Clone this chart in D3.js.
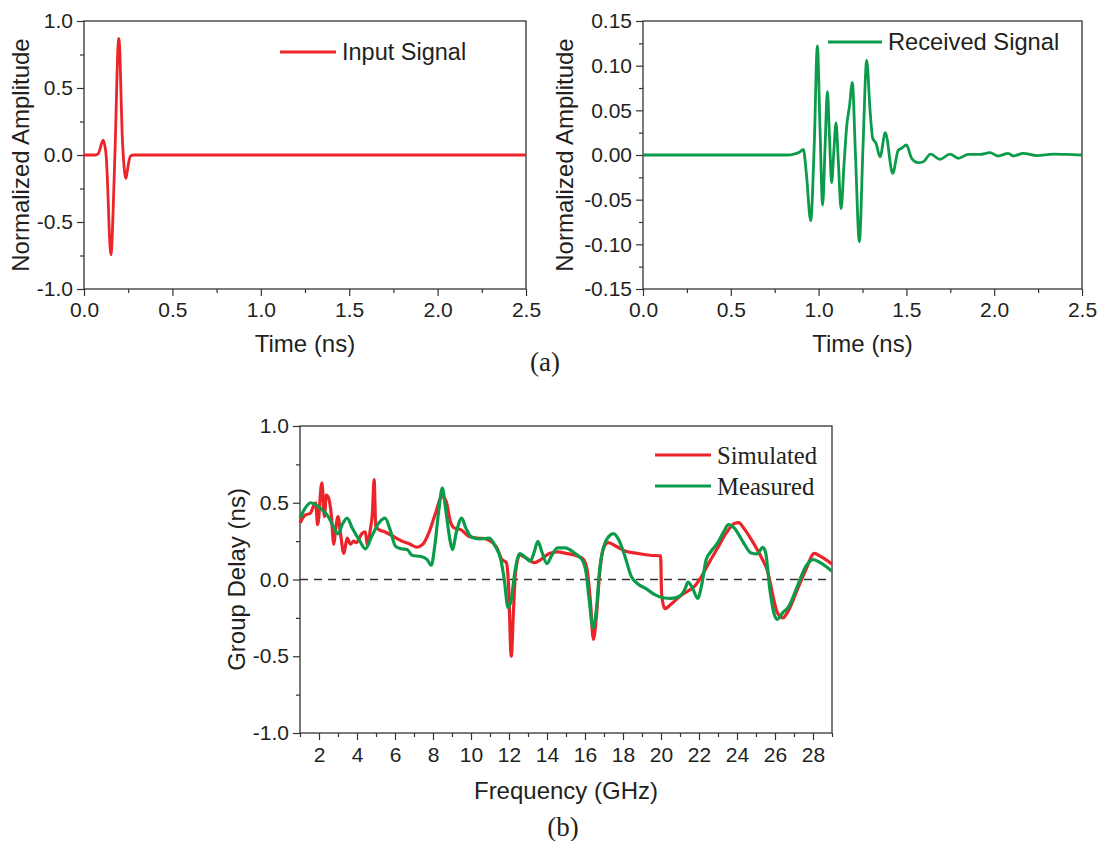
<!DOCTYPE html>
<html>
<head>
<meta charset="utf-8">
<script src="https://cdn.jsdelivr.net/npm/d3@7"></script>
<style>
  body { margin: 0; background: #fff; }
  text { fill: #231f20; }
</style>
</head>
<body>
<svg id="chart" width="1101" height="841"></svg>
<script>
// ---- data ----

// (a) left: input pulse
var inputTime = [0, 0.065, 0.08, 0.092, 0.1, 0.108, 0.117, 0.125, 0.133, 0.141, 0.147, 0.153, 0.16, 0.168, 0.176, 0.184, 0.19, 0.197, 0.204, 0.21, 0.216, 0.222, 0.229, 0.237, 0.245, 0.255, 0.265, 0.28, 2.5];
var inputAmp  = [0, 0, 0.01, 0.05, 0.09, 0.11, 0.075, 0, -0.2, -0.5, -0.68, -0.745, -0.6, -0.28, 0.05, 0.45, 0.74, 0.87, 0.72, 0.42, 0.15, 0, -0.12, -0.175, -0.12, -0.04, -0.005, 0, 0];

// (a) right: received signal
var recvTime = [0, 0.82, 0.86, 0.89, 0.913, 0.93, 0.955, 0.975, 0.993, 1.008, 1.023, 1.037, 1.05, 1.062, 1.074, 1.087, 1.099, 1.113, 1.128, 1.145, 1.16, 1.176, 1.192, 1.21, 1.232, 1.253, 1.274, 1.293, 1.308, 1.327, 1.35, 1.38, 1.422, 1.454, 1.473, 1.5, 1.53, 1.568, 1.596, 1.638, 1.691, 1.748, 1.796, 1.852, 1.919, 1.976, 2.023, 2.08, 2.109, 2.166, 2.242, 2.337, 2.413, 2.5];
var recvAmp  = [0, 0, 0.001, 0.003, 0.0064, -0.02, -0.0735, 0.01, 0.122, 0.03, -0.056, 0.01, 0.071, 0.02, -0.031, 0.005, 0.036, -0.01, -0.06, -0.01, 0.032, 0.055, 0.081, 0, -0.097, 0.01, 0.106, 0.05, 0.019, 0.013, -0.002, 0.025, -0.0205, 0.0056, 0.0075, 0.0112, -0.0037, -0.0086, -0.0075, 0.001, -0.0049, 0.001, -0.0037, 0.0007, 0.0007, 0.0026, -0.0011, 0.0019, -0.0011, 0.0019, -0.0007, 0.001, 0.0007, 0];

// (b) group delay
var simFreq  = [1.0, 1.27, 1.53, 1.82, 1.93, 2.15, 2.29, 2.38, 2.51, 2.64, 2.78, 2.86, 3.0, 3.13, 3.31, 3.48, 3.66, 3.82, 3.97, 4.26, 4.44, 4.55, 4.7, 4.81, 4.9, 4.99, 5.15, 5.48, 5.92, 6.36, 6.8, 7.14, 7.47, 7.8, 8.13, 8.47, 8.69, 8.91, 9.13, 9.46, 9.9, 10.35, 10.79, 11.13, 11.35, 11.63, 11.86, 11.97, 12.12, 12.23, 12.34, 12.57, 12.9, 13.34, 13.67, 14.12, 14.56, 15.0, 15.55, 15.89, 16.11, 16.29, 16.44, 16.6, 16.77, 16.95, 17.22, 17.66, 18.1, 18.77, 19.43, 19.98, 20.03, 20.2, 20.54, 20.98, 21.42, 21.76, 22.09, 22.53, 22.98, 23.42, 23.86, 24.08, 24.41, 24.85, 25.3, 25.63, 25.9, 26.12, 26.41, 26.74, 27.18, 27.63, 28.07, 28.4, 29.0];
var simDelay = [0.368, 0.42, 0.43, 0.5, 0.357, 0.63, 0.41, 0.55, 0.53, 0.43, 0.23, 0.31, 0.41, 0.3, 0.17, 0.27, 0.23, 0.25, 0.24, 0.3, 0.31, 0.22, 0.325, 0.43, 0.65, 0.345, 0.325, 0.31, 0.28, 0.25, 0.23, 0.21, 0.23, 0.31, 0.43, 0.54, 0.51, 0.38, 0.335, 0.325, 0.28, 0.27, 0.264, 0.24, 0.21, 0.13, 0.11, -0.02, -0.5, -0.22, 0.04, 0.16, 0.14, 0.11, 0.13, 0.17, 0.18, 0.17, 0.155, 0.135, 0.065, -0.15, -0.39, -0.24, 0.04, 0.195, 0.24, 0.215, 0.185, 0.17, 0.158, 0.154, -0.09, -0.19, -0.16, -0.11, -0.075, -0.045, 0.01, 0.11, 0.205, 0.3, 0.365, 0.37, 0.325, 0.24, 0.14, 0.045, -0.11, -0.215, -0.25, -0.195, -0.065, 0.065, 0.17, 0.15, 0.1];
var measFreq  = [1.0, 1.27, 1.56, 1.82, 2.15, 2.49, 2.71, 3.0, 3.22, 3.48, 3.75, 4.15, 4.44, 4.77, 5.15, 5.48, 5.74, 6.03, 6.32, 6.63, 6.92, 7.36, 7.69, 7.91, 8.09, 8.31, 8.49, 8.67, 8.89, 9.02, 9.24, 9.51, 9.73, 10.02, 10.46, 10.97, 11.28, 11.57, 11.75, 11.95, 12.12, 12.3, 12.57, 12.9, 13.12, 13.34, 13.52, 13.72, 14.0, 14.23, 14.56, 14.96, 15.44, 15.89, 16.06, 16.22, 16.42, 16.6, 16.77, 16.99, 17.26, 17.5, 17.77, 18.1, 18.43, 18.77, 19.21, 19.65, 20.1, 20.54, 20.98, 21.25, 21.42, 21.65, 21.93, 22.13, 22.38, 22.64, 22.98, 23.31, 23.55, 23.86, 24.3, 24.74, 25.07, 25.36, 25.51, 25.73, 25.96, 26.12, 26.41, 26.74, 27.18, 27.63, 28.02, 28.4, 29.0];
var measDelay = [0.4, 0.465, 0.5, 0.487, 0.455, 0.41, 0.357, 0.297, 0.357, 0.4, 0.335, 0.25, 0.2, 0.28, 0.368, 0.4, 0.325, 0.216, 0.2, 0.195, 0.156, 0.15, 0.13, 0.093, 0.216, 0.455, 0.595, 0.455, 0.26, 0.195, 0.314, 0.4, 0.335, 0.277, 0.264, 0.27, 0.216, 0.13, 0, -0.184, -0.13, 0.043, 0.169, 0.14, 0.12, 0.184, 0.249, 0.184, 0.104, 0.152, 0.206, 0.206, 0.173, 0.119, 0.043, -0.13, -0.314, -0.195, 0.065, 0.216, 0.281, 0.299, 0.26, 0.152, 0.022, -0.028, -0.06, -0.097, -0.119, -0.123, -0.108, -0.065, -0.017, -0.054, -0.123, -0.043, 0.13, 0.184, 0.238, 0.314, 0.357, 0.335, 0.249, 0.173, 0.167, 0.21, 0.173, -0.065, -0.227, -0.26, -0.216, -0.173, -0.043, 0.087, 0.13, 0.108, 0.054];

// ticks
var timeTicks  = [0, 0.5, 1.0, 1.5, 2.0, 2.5];
var timeMinor  = [0.25, 0.75, 1.25, 1.75, 2.25];
var ampTicks   = [-1.0, -0.5, 0.0, 0.5, 1.0];
var ampMinor   = [-0.75, -0.25, 0.25, 0.75];
var recvTicks  = [-0.15, -0.10, -0.05, 0.0, 0.05, 0.10, 0.15];
var recvMinor  = [-0.125, -0.075, -0.025, 0.025, 0.075, 0.125];
var freqTicks  = [2, 4, 6, 8, 10, 12, 14, 16, 18, 20, 22, 24, 26, 28];
var freqMinor  = [1, 3, 5, 7, 9, 11, 13, 15, 17, 19, 21, 23, 25, 27, 29];
var delayTicks = [-1.0, -0.5, 0.0, 0.5, 1.0];
var delayMinor = [-0.75, -0.25, 0.25, 0.75];

var RED = "#ec2429", GREEN = "#0b9b4a", INK = "#333";
var SANS = "'Liberation Sans', Arial, sans-serif";
var SERIF = "'Liberation Serif', 'Times New Roman', serif";

var svg = d3.select("#chart");
svg.append("rect").attr("width", 1101).attr("height", 841).attr("fill", "#fff");

function pairs(xs, ys) {
    return xs.map(function(d, i) { return [d, ys[i]]; });
}

// draws one framed panel with axes, returns scales
function panel(o) {
    var x = d3.scaleLinear().domain(o.xDomain).range([o.left, o.right]);
    var y = d3.scaleLinear().domain(o.yDomain).range([o.bottom, o.top]);
    var g = svg.append("g");

    // minor ticks
    g.append("g").attr("transform", "translate(0," + o.bottom + ")")
        .call(d3.axisBottom(x).tickValues(o.xMinor).tickSize(4).tickSizeOuter(0).tickFormat(""));
    g.append("g").attr("transform", "translate(" + o.left + ",0)")
        .call(d3.axisLeft(y).tickValues(o.yMinor).tickSize(4).tickSizeOuter(0).tickFormat(""));

    // major ticks + labels
    g.append("g").attr("transform", "translate(0," + o.bottom + ")")
        .call(d3.axisBottom(x).tickValues(o.xTicks).tickSize(7).tickPadding(o.xPad).tickSizeOuter(0).tickFormat(o.xFmt));
    g.append("g").attr("transform", "translate(" + o.left + ",0)")
        .call(d3.axisLeft(y).tickValues(o.yTicks).tickSize(7).tickPadding(4).tickSizeOuter(0).tickFormat(o.yFmt));

    g.selectAll(".domain").remove();
    g.selectAll(".tick line").attr("stroke", INK).attr("stroke-width", 1.2);
    g.selectAll(".tick text").attr("font-family", SANS).attr("font-size", 21).attr("fill", "#231f20");

    // frame
    g.append("rect")
        .attr("x", o.left).attr("y", o.top)
        .attr("width", o.right - o.left).attr("height", o.bottom - o.top)
        .attr("fill", "none").attr("stroke", INK).attr("stroke-width", 1.3);

    // titles
    g.append("text")
        .attr("x", (o.left + o.right) / 2).attr("y", o.xTitleY)
        .attr("text-anchor", "middle")
        .attr("font-family", SANS).attr("font-size", 24)
        .text(o.xTitle);
    g.append("text")
        .attr("transform", "translate(" + o.yTitleX + "," + ((o.top + o.bottom) / 2) + ") rotate(-90)")
        .attr("text-anchor", "middle").attr("dy", "0.35em")
        .attr("font-family", SANS).attr("font-size", 24)
        .text(o.yTitle);

    return { x: x, y: y, g: g };
}

function drawLine(p, data, color, width) {
    var line = d3.line()
        .x(function(d) { return p.x(d[0]); })
        .y(function(d) { return p.y(d[1]); })
        .curve(d3.curveMonotoneX);
    p.g.append("path")
        .datum(data)
        .attr("d", line)
        .attr("fill", "none")
        .attr("stroke", color)
        .attr("stroke-width", width)
        .attr("stroke-linejoin", "round");
}

function legendItem(x1, x2, y, color, label, font, size, width) {
    svg.append("line")
        .attr("x1", x1).attr("x2", x2).attr("y1", y).attr("y2", y)
        .attr("stroke", color).attr("stroke-width", width);
    svg.append("text")
        .attr("x", x2 + 6).attr("y", y).attr("dy", "0.35em")
        .attr("font-family", font).attr("font-size", size)
        .text(label);
}

var f1 = function(d) { return d.toFixed(1); };
var f2 = function(d) { return d.toFixed(2); };

// (a) left
var pA = panel({
    left: 84, right: 526, top: 21, bottom: 289,
    xDomain: [0, 2.5], yDomain: [-1, 1],
    xTicks: timeTicks, xMinor: timeMinor, yTicks: ampTicks, yMinor: ampMinor,
    xFmt: f1, yFmt: f1, xPad: 6,
    xTitle: "Time (ns)", xTitleY: 352,
    yTitle: "Normalized Amplitude", yTitleX: 21
});
drawLine(pA, pairs(inputTime, inputAmp), RED, 2.8);
legendItem(280, 336, 52, RED, "Input Signal", SANS, 23.5, 2.8);

// (a) right
var pB = panel({
    left: 643, right: 1082, top: 21, bottom: 289,
    xDomain: [0, 2.5], yDomain: [-0.15, 0.15],
    xTicks: timeTicks, xMinor: timeMinor, yTicks: recvTicks, yMinor: recvMinor,
    xFmt: f1, yFmt: f2, xPad: 6,
    xTitle: "Time (ns)", xTitleY: 352,
    yTitle: "Normalized Amplitude", yTitleX: 565
});
drawLine(pB, pairs(recvTime, recvAmp), GREEN, 2.8);
legendItem(828, 882, 42, GREEN, "Received Signal", SANS, 23.7, 2.8);

// (b)
var pC = panel({
    left: 300, right: 832, top: 426, bottom: 733,
    xDomain: [1, 29], yDomain: [-1, 1],
    xTicks: freqTicks, xMinor: freqMinor, yTicks: delayTicks, yMinor: delayMinor,
    xFmt: function(d) { return d; }, yFmt: f1, xPad: 7,
    xTitle: "Frequency (GHz)", xTitleY: 799,
    yTitle: "Group Delay (ns)", yTitleX: 237
});
pC.g.append("line")
    .attr("x1", pC.x(1)).attr("x2", pC.x(29))
    .attr("y1", pC.y(0)).attr("y2", pC.y(0))
    .attr("stroke", INK).attr("stroke-width", 1.6)
    .attr("stroke-dasharray", "8,6");
drawLine(pC, pairs(simFreq, simDelay), RED, 3.2);
drawLine(pC, pairs(measFreq, measDelay), GREEN, 3.2);
legendItem(655, 711, 455, RED, "Simulated", SERIF, 24.7, 3.2);
legendItem(655, 711, 486, GREEN, "Measured", SERIF, 24.7, 3.2);

// panel captions
svg.append("text").attr("x", 545).attr("y", 371).attr("text-anchor", "middle")
    .attr("font-family", SERIF).attr("font-size", 27).text("(a)");
svg.append("text").attr("x", 563).attr("y", 836).attr("text-anchor", "middle")
    .attr("font-family", SERIF).attr("font-size", 27).text("(b)");
</script>
</body>
</html>
